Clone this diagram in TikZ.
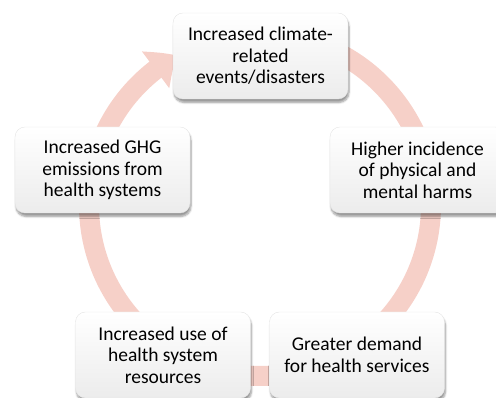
\documentclass[tikz,border=0pt]{standalone}
\usepackage{fontspec}
\setmainfont{Carlito}
\usetikzlibrary{arrows.meta,bending,shadows.blur}
\definecolor{ringpink}{RGB}{246,208,200}
\begin{document}
\begin{tikzpicture}[x=1pt,y=1pt,
	stage/.style={rounded corners=10pt, minimum width=175pt, minimum height=86pt,
		align=center, draw=gray!20, top color=white, bottom color=gray!15,
		blur shadow={shadow xshift=1pt, shadow yshift=-3.5pt, shadow opacity=40, shadow blur steps=6},
		font=\fontsize{19.5}{21.5}\selectfont}]
	\useasboundingbox (0,0) rectangle (496,398);
	\clip (0,0) rectangle (496,398);
	\coordinate (O) at (260,193);
	% ring with arrow
	\draw[ringpink, line width=20pt, -{Triangle[width=44pt, length=26pt, bend]}]
		(O) ++(90:171) arc[start angle=90, end angle=-241, radius=171];
	% stages
	\node[stage] (C1) at (260.5,342) {Increased climate-\\related\\events/disasters};
	\node[stage] (C2) at (417.5,228) {Higher incidence\\of physical and\\mental harms};
	\node[stage] (C3) at (357,43) {Greater demand\\for health services};
	\node[stage] (C4) at (163,43) {Increased use of\\health system\\resources};
	\node[stage] (C5) at (102.5,228) {Increased GHG\\emissions from\\health systems};
\end{tikzpicture}
\end{document}
